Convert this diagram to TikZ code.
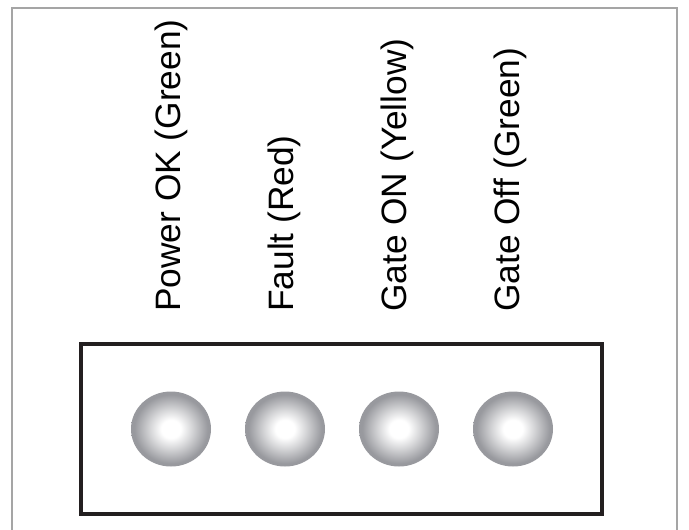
\documentclass[tikz,border=0pt]{standalone}
\usepackage{fontspec}
\setmainfont{Liberation Sans}
\definecolor{ledgray}{RGB}{152,153,158}
\definecolor{framegray}{RGB}{165,165,165}
\definecolor{boxblack}{RGB}{35,31,32}
\pgfdeclareradialshading{ledshade}{\pgfpoint{0bp}{0bp}}{color(0bp)=(white); color(6bp)=(white); color(13bp)=(ledgray!40!white); color(23bp)=(ledgray); color(25bp)=(ledgray); color(50bp)=(ledgray)}
\begin{document}
\begin{tikzpicture}[x=1pt,y=-1pt]
\useasboundingbox (0,0) rectangle (689,530);
\draw[framegray,line width=1.5] (12,530) -- (12,8) -- (677,8) -- (677,530);
\draw[boxblack,line width=3.4] (81,344) rectangle (602,514);
\foreach \i/\txt in {0/Power OK (Green),1/Fault (Red),2/Gate ON (Yellow),3/Gate Off (Green)}{
\shade[shading=ledshade] (171+\i*114,429) ellipse (40 and 37.5);
\node[rotate=90,anchor=base west,inner sep=0pt,font=\fontsize{35.3}{40}\selectfont] (lbl\i) at (180+\i*113,312) {\txt};
}
\end{tikzpicture}
\end{document}
